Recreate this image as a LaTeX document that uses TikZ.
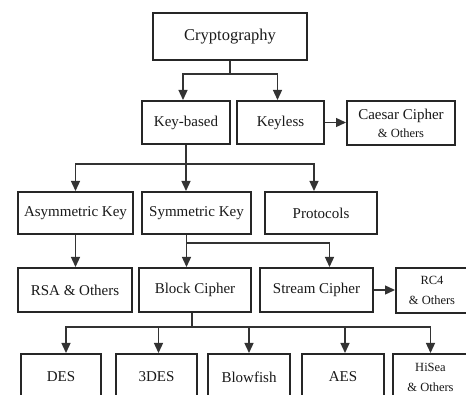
\documentclass[tikz,border=0pt]{standalone}
\usepackage{fontspec}
\setmainfont{Liberation Serif}
\usetikzlibrary{arrows.meta}
\newcommand\mybox[6]{\node[box,minimum width={#4-#2},minimum height={#5-#3}] (#1) at ({(#2+#4)/2},{(#3+#5)/2}) {#6};}
\newcommand\smallline[1]{{\fontsize{12.5}{14}\selectfont #1}}
\begin{document}
\begin{tikzpicture}[x=1pt,y=-1pt,
  box/.style={draw=black!85, line width=2pt, inner sep=0pt, text=black!90, align=center,
    font=\fontsize{15}{18}\selectfont},
  conn/.style={draw=black!80, line width=1.3pt},
  arr/.style={conn, -{Triangle[length=10pt,width=9pt]}}]
\useasboundingbox (0,0) rectangle (466,395);
\clip (0,0) rectangle (466,395);
\fill[white] (0,0) rectangle (466,395);
% boxes
\mybox{crypto}{153}{13}{307}{60}{\fontsize{16.5}{18}\selectfont Cryptography}
\mybox{kb}{142}{101}{230}{144}{Key-based}
\mybox{kl}{237}{101}{324}{144}{Keyless}
\mybox{caesar}{347}{101}{455}{145}{Caesar Cipher\\[0pt]\smallline{\& Others}}
\mybox{asym}{18}{192}{133}{234}{Asymmetric Key}
\mybox{sym}{142}{192}{251}{234}{Symmetric Key}
\mybox{proto}{265}{192}{377}{234}{Protocols}
\mybox{rsa}{18}{268}{132}{312}{RSA \& Others}
\mybox{block}{139}{268}{251}{312}{Block Cipher}
\mybox{stream}{260}{268}{373}{312}{Stream Cipher}
\mybox{rc}{396}{268}{468}{313}{\smallline{RC4}\\[2pt]\smallline{\& Others}}
\mybox{des}{21}{354}{101}{400}{DES}
\mybox{tdes}{116}{354}{197}{400}{3DES}
\mybox{blow}{208}{354}{290}{400}{Blowfish}
\mybox{aes}{302}{354}{384}{400}{AES}
\mybox{hisea}{393}{354}{468}{400}{\smallline{HiSea}\\[2pt]\smallline{\& Others}}
% connectors: level 1
\coordinate (j1) at ([yshift=-13pt]crypto.south);
\draw[conn] (crypto.south) -- (j1);
\draw[arr] (j1) -| ([xshift=-3pt]kb.north);
\draw[arr] (j1) -| ([xshift=-3pt]kl.north);
\draw[arr] (kl.east) -- (kl.east -| caesar.west);
% level 2
\coordinate (j2) at ([yshift=-19pt]kb.south);
\draw[conn] (kb.south) -- (j2);
\draw[arr] (j2) -| (asym.north);
\draw[arr] (j2) -- (j2 |- sym.north);
\draw[arr] (j2) -| ([xshift=-7pt]proto.north);
% level 3
\draw[arr] (asym.south) -- (asym.south |- rsa.north);
\coordinate (s0) at ([xshift=-10pt]sym.south);
\coordinate (j3) at ([yshift=-8pt]s0);
\draw[arr] (s0) -- (s0 |- block.north);
\draw[arr] (j3) -| ([xshift=13pt]stream.north);
\draw[arr] (stream.east) -- (stream.east -| rc.west);
% level 4
\coordinate (b0) at ([xshift=-3pt]block.south);
\coordinate (j4) at ([yshift=-14pt]b0);
\draw[conn] (b0) -- (j4);
\draw[arr] (j4) -| ([xshift=5pt]des.north);
\draw[arr] (j4) -| ([xshift=2pt]tdes.north);
\draw[arr] (j4) -| (blow.north);
\draw[arr] (j4) -| ([xshift=2pt]aes.north);
\draw[arr] (j4) -| (hisea.north);
\end{tikzpicture}
\end{document}
